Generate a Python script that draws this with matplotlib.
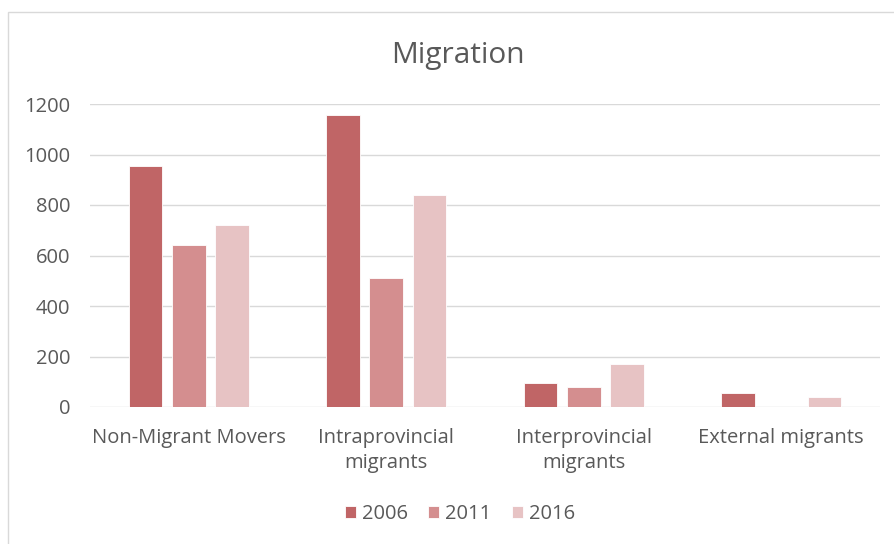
import numpy as np
import matplotlib.pyplot as plt
from matplotlib.patches import Rectangle

categories = ["Non-Migrant Movers", "Intraprovincial\nmigrants", "Interprovincial\nmigrants", "External migrants"]
years = ["2006", "2011", "2016"]
v2006 = [955, 1156, 95, 54]
v2011 = [641, 509, 79, 0]
v2016 = [721, 841, 170, 38]
colors = ["#C06566", "#D48E8F", "#E7C3C4"]

plt.rcParams['font.family'] = ['Open Sans', 'DejaVu Sans']

fig = plt.figure(figsize=(8.95, 5.44), dpi=100)
ax = fig.add_axes([90/895, 1-407/544, 790/895, 303/544])

x = np.arange(len(categories))
width = 0.172
step = 0.219
for i, (vals, lab) in enumerate(zip([v2006, v2011, v2016], years)):
    ax.bar(x + (i-1)*step, vals, width, color=colors[i], label=lab,
           edgecolor="white", linewidth=0.6, zorder=3)

ax.set_xlim(-0.5, 3.5)
ax.set_ylim(0, 1200)
ax.set_yticks(range(0, 1201, 200))
ax.grid(axis="y", color="#D9D9D9", linewidth=1, zorder=0)
for s in ax.spines.values():
    s.set_visible(False)
ax.tick_params(length=0, labelsize=14.5, colors="#595959")
ax.tick_params(axis="y", pad=14)
ax.set_xticks(x)
ax.set_xticklabels(categories, linespacing=1.35, va="top")
ax.tick_params(axis="x", pad=15)

fig.text(0.512, 1-55/544, "Migration", ha="center", va="center", fontsize=21.5, color="#595959")

ax.legend(loc="center", bbox_to_anchor=(0.514, 1-514/544), bbox_transform=fig.transFigure,
          ncol=3, frameon=False, fontsize=14.5, handlelength=0.55, handleheight=0.55,
          columnspacing=1.0, handletextpad=0.3, labelcolor="#595959")

fig.patches.append(Rectangle((8/895, -0.01), 1.0, 1-12/544+0.01, transform=fig.transFigure,
                             fill=False, edgecolor="#D9D9D9", linewidth=1))

plt.savefig("out.png", dpi=100)
